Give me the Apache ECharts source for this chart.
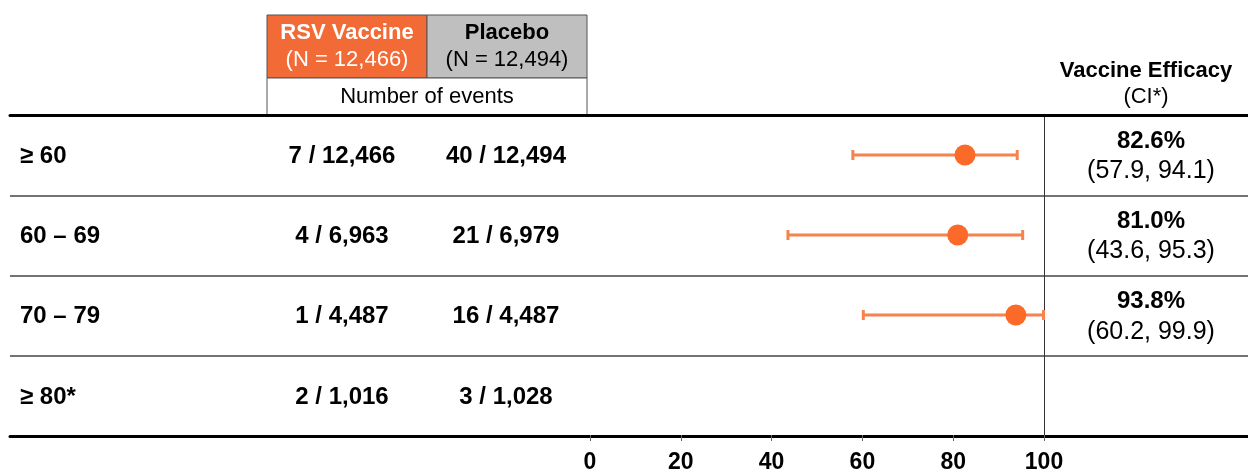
<!DOCTYPE html>
<html><head><meta charset="utf-8">
<script src="https://cdn.jsdelivr.net/npm/echarts@6/dist/echarts.min.js"></script>
<style>html,body{margin:0;padding:0;background:#fff}#c{width:1248px;height:474px}</style>
</head><body><div id="c"></div>
<script>
const groups = ['≥ 60', '60 – 69', '70 – 79', '≥ 80*'];
const vaccineCases = [7, 4, 1, 2];
const vaccineN = [12466, 6963, 4487, 1016];
const placeboCases = [40, 21, 16, 3];
const placeboN = [12494, 6979, 4487, 1028];
const efficacy = [82.6, 81.0, 93.8, null];
const ciLow = [57.9, 43.6, 60.2, null];
const ciHigh = [94.1, 95.3, 99.9, null];
const totalVaccine = 12466;
const totalPlacebo = 12494;
const xMin = 0, xMax = 100, xStep = 20;

const FONT = '"Liberation Sans", Arial, sans-serif';
const ORANGE = '#f26a35';
const DOT = '#fc6a2a';
const BAR = '#f6824e';
const fmt = n => n.toLocaleString('en-US');

// column anchor positions (layout, px within full-width grid)
const COL_LABEL = 20, COL_VAC = 342, COL_PLA = 506, COL_VE = 1151;

const tableRows = groups.map((g, i) => [i]);
const ciData = groups.map((g, i) => efficacy[i] == null ? null : [ciLow[i], ciHigh[i], i]).filter(d => d);
const pointData = groups.map((g, i) => efficacy[i] == null ? null : [efficacy[i], i]).filter(d => d);

function txt(x, y, text, font, align) {
  return {type: 'text', style: {x: x, y: y, text: text, font: font, fill: '#000',
    textAlign: align || 'center', textVerticalAlign: 'middle'}};
}

const chart = echarts.init(document.getElementById('c'), null, {renderer: 'canvas'});
chart.setOption({
  animation: false,
  backgroundColor: '#fff',
  grid: [
    {left: 590, right: 204, top: 115, bottom: 38},
    {left: 10, right: 0, top: 115, bottom: 38}
  ],
  xAxis: [
    {gridIndex: 0, type: 'value', min: xMin, max: xMax, interval: xStep,
      axisLine: {show: false}, splitLine: {show: false},
      axisTick: {show: true, inside: false, length: 6, lineStyle: {color: '#666', width: 1}},
      axisLabel: {show: true, margin: 16, fontFamily: FONT, fontWeight: 'bold', fontSize: 23, color: '#000'}},
    {gridIndex: 1, type: 'value', min: 10, max: 1248, position: 'bottom',
      axisLine: {show: true, onZero: false, lineStyle: {color: '#000', width: 3}},
      axisTick: {show: false}, axisLabel: {show: false}, splitLine: {show: false}},
    {gridIndex: 1, type: 'value', min: 10, max: 1248, position: 'top',
      axisLine: {show: true, onZero: false, lineStyle: {color: '#000', width: 3}},
      axisTick: {show: false}, axisLabel: {show: false}, splitLine: {show: false}}
  ],
  yAxis: [
    {gridIndex: 0, type: 'category', data: groups, inverse: true, position: 'right',
      axisLine: {show: true, onZero: false, lineStyle: {color: '#333', width: 1}},
      axisTick: {show: false}, axisLabel: {show: false}, splitLine: {show: false}},
    {gridIndex: 1, type: 'category', data: groups, inverse: true,
      axisLine: {show: false}, axisTick: {show: false}, axisLabel: {show: false},
      splitLine: {show: true, lineStyle: {color: '#444', width: 1.5}}}
  ],
  series: [
    {type: 'custom', xAxisIndex: 0, yAxisIndex: 0, data: ciData, silent: true,
      renderItem: function (params, api) {
        const a = api.coord([api.value(0), api.value(2)]);
        const b = api.coord([api.value(1), api.value(2)]);
        const h = 5;
        const st = {stroke: BAR, lineWidth: 3};
        return {type: 'group', children: [
          {type: 'line', shape: {x1: a[0], y1: a[1], x2: b[0], y2: b[1]}, style: st},
          {type: 'line', shape: {x1: a[0], y1: a[1] - h, x2: a[0], y2: a[1] + h}, style: st},
          {type: 'line', shape: {x1: b[0], y1: b[1] - h, x2: b[0], y2: b[1] + h}, style: st}
        ]};
      }},
    {type: 'scatter', xAxisIndex: 0, yAxisIndex: 0, data: pointData, symbol: 'circle', symbolSize: 21,
      itemStyle: {color: DOT, opacity: 1}, silent: true, z: 5},
    {type: 'custom', xAxisIndex: 1, yAxisIndex: 1, data: tableRows, silent: true, z: 6,
      renderItem: function (params, api) {
        const i = api.value(0);
        const y = api.coord([COL_LABEL, i])[1] + 1;
        const xl = api.coord([COL_LABEL, i])[0];
        const xv = api.coord([COL_VAC, i])[0];
        const xp = api.coord([COL_PLA, i])[0];
        const xe = api.coord([COL_VE, i])[0];
        const bold = 'bold 24px ' + FONT;
        const kids = [
          txt(xl, y, groups[i], bold, 'left'),
          txt(xv, y, vaccineCases[i] + ' / ' + fmt(vaccineN[i]), bold),
          txt(xp, y, placeboCases[i] + ' / ' + fmt(placeboN[i]), bold)
        ];
        if (efficacy[i] != null) {
          kids.push(txt(xe, y - 15, efficacy[i].toFixed(1) + '%', 'bold 24px ' + FONT));
          kids.push(txt(xe, y + 15, '(' + ciLow[i].toFixed(1) + ', ' + ciHigh[i].toFixed(1) + ')', '25px ' + FONT));
        }
        return {type: 'group', children: kids};
      }}
  ],
  graphic: [
    {type: 'rect', shape: {x: 267, y: 15, width: 160, height: 63}, style: {fill: ORANGE, stroke: '#555', lineWidth: 1}},
    {type: 'rect', shape: {x: 427, y: 15, width: 160, height: 63}, style: {fill: '#bfbfbf', stroke: '#555', lineWidth: 1}},
    {type: 'rect', shape: {x: 267, y: 78, width: 320, height: 37}, style: {fill: '#fff', stroke: '#555', lineWidth: 1}},
    {type: 'text', x: 347, y: 33, style: {text: 'RSV Vaccine', fill: '#fff', font: 'bold 22px ' + FONT, textAlign: 'center', textVerticalAlign: 'middle'}},
    {type: 'text', x: 347, y: 60, style: {text: '(N = ' + fmt(totalVaccine) + ')', fill: '#fff', font: '22px ' + FONT, textAlign: 'center', textVerticalAlign: 'middle'}},
    {type: 'text', x: 507, y: 33, style: {text: 'Placebo', fill: '#000', font: 'bold 22px ' + FONT, textAlign: 'center', textVerticalAlign: 'middle'}},
    {type: 'text', x: 507, y: 60, style: {text: '(N = ' + fmt(totalPlacebo) + ')', fill: '#000', font: '22px ' + FONT, textAlign: 'center', textVerticalAlign: 'middle'}},
    {type: 'text', x: 427, y: 97, style: {text: 'Number of events', fill: '#000', font: '22px ' + FONT, textAlign: 'center', textVerticalAlign: 'middle'}},
    {type: 'text', x: 1146, y: 71, style: {text: 'Vaccine Efficacy', fill: '#000', font: 'bold 22px ' + FONT, textAlign: 'center', textVerticalAlign: 'middle'}},
    {type: 'text', x: 1146, y: 97, style: {text: '(CI*)', fill: '#000', font: '22px ' + FONT, textAlign: 'center', textVerticalAlign: 'middle'}}
  ]
});
</script>
</body></html>
